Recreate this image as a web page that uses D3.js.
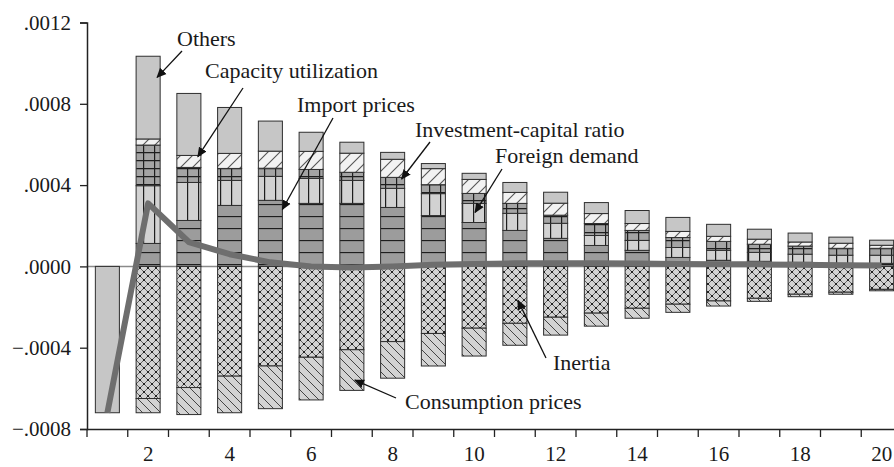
<!DOCTYPE html>
<html>
<head>
<meta charset="utf-8">
<title>Decomposition by component</title>
<style>
  body { margin: 0; background: #fff; }
  svg { display: block; }
  text { font-family: "Liberation Serif", "DejaVu Serif", serif; fill: #1a1a1a; }
</style>
</head>
<body>
<script src="https://d3js.org/d3.v7.min.js"></script>
<script>
// periods on the x axis
const periods = [1, 2, 3, 4, 5, 6, 7, 8, 9, 10, 11, 12, 13, 14, 15, 16, 17, 18, 19, 20];
const xTickLabels = [2, 4, 6, 8, 10, 12, 14, 16, 18, 20];
const yTicks = [-0.0008, -0.0004, 0, 0.0004, 0.0008, 0.0012];

// contributions
const importPrices = [0, 0.000113, 0.000226, 0.0003, 0.000325, 0.00031, 0.00031, 0.00029, 0.00025, 0.000216,
  0.000177, 0.000138, 0.000103, 0.000079, 0.000044, 0.00003, 0.000025, 0.00002, 0.000015, 0.000015];
const foreignDemand = [0, 0.000284, 0.000187, 0.000123, 0.000118, 0.000123, 0.000113, 0.000094, 0.000108, 0.000094,
  0.000084, 0.000074, 0.000049, 0.000049, 0.000049, 0.000049, 0.000044, 0.00004, 0.00004, 0.00004];
const investCapital = [0, 0.0002, 0.000074, 0.000059, 0.00004, 0.000044, 0.00004, 0.000054, 0.000044, 0.000049,
  0.000049, 0.00004, 0.000059, 0.000049, 0.000049, 0.000044, 0.00004, 0.00004, 0.000034, 0.000034];
const capacityUtil = [0, 0.00003, 0.000059, 0.000074, 0.000084, 0.000089, 0.000094, 0.000089, 0.000079, 0.000069,
  0.000054, 0.000059, 0.000049, 0.000034, 0.00003, 0.000025, 0.000025, 0.00002, 0.000025, 0.000015];
const others = [-0.00072, 0.000407, 0.000305, 0.000226, 0.000148, 0.000094, 0.000054, 0.000034, 0.000025, 0.00003,
  0.000049, 0.000054, 0.000054, 0.000064, 0.000069, 0.000059, 0.000049, 0.000044, 0.00003, 0.000025];
const inertia = [0, -0.00065, -0.000596, -0.00054, -0.00049, -0.000447, -0.00041, -0.00037, -0.00033, -0.000304,
  -0.00028, -0.00025, -0.00023, -0.000206, -0.000186, -0.00017, -0.000157, -0.000137, -0.000127, -0.000113];
const consumptionPrices = [0, -0.00007, -0.000133, -0.00018, -0.00021, -0.00021, -0.0002, -0.00018, -0.00016, -0.000137,
  -0.000108, -0.000088, -0.000064, -0.000049, -0.00004, -0.000025, -0.000015, -0.000012, -0.00001, -0.000007];
// total response (thick line)
const total = [-0.00072, 0.00031, 0.00012, 0.00006, 0.00002, 0.0, -0.000005, 0.0, 0.000008, 0.000012,
  0.000015, 0.000015, 0.000015, 0.000014, 0.000012, 0.00001, 0.00001, 0.000008, 0.000006, 0.000005];

const width = 894, height = 467;

const svg = d3.select("body").append("svg")
  .attr("width", width)
  .attr("height", height);

// fill patterns
const defs = svg.append("defs");
function makePattern(id, w, h, bg) {
  const p = defs.append("pattern").attr("id", id)
    .attr("patternUnits", "userSpaceOnUse")
    .attr("width", w).attr("height", h);
  p.append("rect").attr("width", w).attr("height", h).attr("fill", bg);
  return p;
}
// capacity utilization: light with "/" hatch
makePattern("pCU", 12, 12, "#f2f2f2")
  .append("path").attr("d", "M-3,3 L3,-3 M0,12 L12,0 M9,15 L15,9")
  .attr("stroke", "#555").attr("stroke-width", 1.1);
// investment-capital ratio: dark grey grid
const pIK = makePattern("pIK", 11, 8, "#a4a4a4");
pIK.append("path").attr("d", "M0.5,0 V8 M0,0.5 H11").attr("stroke", "#1e1e1e").attr("stroke-width", 1.4);
// foreign demand: light grey, vertical lines
makePattern("pFD", 11, 10, "#d2d2d2")
  .append("path").attr("d", "M0.5,0 V10").attr("stroke", "#1e1e1e").attr("stroke-width", 1.4);
// import prices: dark grey, horizontal lines
makePattern("pIP", 10, 12, "#9c9c9c")
  .append("path").attr("d", "M0,0.5 H10").attr("stroke", "#1e1e1e").attr("stroke-width", 1.3);
// inertia: diamonds with dots
const pIN = makePattern("pIN", 8, 8, "#d3d3d3");
pIN.append("path").attr("d", "M0,0 L8,8 M8,0 L0,8").attr("stroke", "#444").attr("stroke-width", 0.8);
pIN.selectAll("circle").data([[0, 0], [8, 0], [0, 8], [8, 8], [4, 4]]).enter()
  .append("circle").attr("cx", d => d[0]).attr("cy", d => d[1]).attr("r", 1.1).attr("fill", "#111");
// consumption prices: "\" hatch
makePattern("pCP", 9, 9, "#d3d3d3")
  .append("path").attr("d", "M0,0 L9,9 M-4.5,4.5 L4.5,13.5 M4.5,-4.5 L13.5,4.5")
  .attr("stroke", "#444").attr("stroke-width", 1);

const series = [
  { key: "importPrices", values: importPrices, fill: "url(#pIP)" },
  { key: "foreignDemand", values: foreignDemand, fill: "url(#pFD)" },
  { key: "investCapital", values: investCapital, fill: "url(#pIK)" },
  { key: "capacityUtil", values: capacityUtil, fill: "url(#pCU)" },
  { key: "others", values: others, fill: "#c6c6c6" },
  { key: "inertia", values: inertia, fill: "url(#pIN)" },
  { key: "consumptionPrices", values: consumptionPrices, fill: "url(#pCP)" }
];

const table = periods.map((p, i) => {
  const row = { period: p };
  series.forEach(s => { row[s.key] = s.values[i]; });
  return row;
});

const stacked = d3.stack()
  .keys(series.map(s => s.key))
  .offset(d3.stackOffsetDiverging)(table);

// scales
const x = d3.scaleBand()
  .domain(periods)
  .range([87, 902])
  .paddingInner(0.41)
  .paddingOuter(0.205);

const y = d3.scaleLinear()
  .domain([-0.0008, 0.0012])
  .range([429, 22.5]);

// zero line
svg.append("line")
  .attr("x1", 87).attr("x2", width)
  .attr("y1", y(0)).attr("y2", y(0))
  .attr("stroke", "#8a8a8a").attr("stroke-width", 1.5);

// stacked bars
svg.append("g").selectAll("g")
  .data(stacked)
  .enter().append("g")
  .attr("fill", (d, i) => series[i].fill)
  .selectAll("rect")
  .data(d => d)
  .enter().append("rect")
  .filter(d => Math.abs(d[1] - d[0]) > 0)
  .attr("x", d => x(d.data.period))
  .attr("width", x.bandwidth())
  .attr("y", d => y(Math.max(d[0], d[1])))
  .attr("height", d => Math.abs(y(d[0]) - y(d[1])))
  .attr("stroke", "#2e2e2e")
  .attr("stroke-width", 1);

// total line
const line = d3.line()
  .x((d, i) => x(periods[i]) + x.bandwidth() / 2)
  .y(d => y(d));

svg.append("path")
  .datum(total)
  .attr("d", line)
  .attr("fill", "none")
  .attr("stroke", "#6e6e6e")
  .attr("stroke-width", 6)
  .attr("stroke-linejoin", "round");

// y axis
const yAxis = svg.append("g")
  .attr("transform", "translate(87,0)")
  .call(d3.axisLeft(y)
    .tickValues(yTicks)
    .tickSize(7)
    .tickPadding(9)
    .tickFormat(d => d3.format(".4f")(d).replace("0.", ".")));

// x axis
const xAxis = svg.append("g")
  .attr("transform", "translate(0,429)")
  .call(d3.axisBottom(x)
    .tickValues(xTickLabels)
    .tickSize(0)
    .tickPadding(17));
xAxis.select(".domain").attr("d", "M87,0.5H" + width);

// tick marks on category boundaries
const boundaries = periods.map(p => x(p) - x.step() * x.paddingInner() / 2);
xAxis.selectAll(".bound")
  .data(boundaries)
  .enter().append("line")
  .attr("class", "bound")
  .attr("x1", d => d).attr("x2", d => d)
  .attr("y1", 0).attr("y2", 8)
  .attr("stroke", "#222").attr("stroke-width", 1.3);

[yAxis, xAxis].forEach(g => {
  g.select(".domain").attr("stroke", "#222").attr("stroke-width", 1.5);
  g.selectAll(".tick line").attr("stroke", "#222").attr("stroke-width", 1.3);
  g.selectAll("text")
    .style("font-family", "'Liberation Serif', 'DejaVu Serif', serif")
    .style("font-size", "21px")
    .attr("fill", "#1a1a1a");
});

// annotations: text position, arrow start and tip (tip anchored to a bar)
const notes = [
  { label: "Others", tx: 177, ty: 46, sx: 182, sy: 51, period: 2, dx: 9, value: 0.00093 },
  { label: "Capacity utilization", tx: 205, ty: 78, sx: 243, sy: 88, period: 3, dx: 9, value: 0.00054 },
  { label: "Import prices", tx: 297, ty: 112, sx: 333, sy: 118, period: 5, dx: 12, value: 0.00028 },
  { label: "Investment-capital ratio", tx: 415, ty: 137, sx: 430, sy: 142, period: 8, dx: 9, value: 0.00043 },
  { label: "Foreign demand", tx: 495, ty: 163, sx: 502, sy: 169, period: 10, dx: 1, value: 0.000266 },
  { label: "Inertia", tx: 553, ty: 370, sx: 546, sy: 358, period: 11, dx: 3, value: -0.000167 },
  { label: "Consumption prices", tx: 405, ty: 409, sx: 396, sy: 398, period: 7, dx: 3, value: -0.00056 }
];

defs.append("marker")
  .attr("id", "arrow")
  .attr("viewBox", "0 0 10 10")
  .attr("refX", 9).attr("refY", 5)
  .attr("markerWidth", 10).attr("markerHeight", 10)
  .attr("markerUnits", "userSpaceOnUse")
  .attr("orient", "auto")
  .append("path").attr("d", "M0,0.5 L10,5 L0,9.5 Z").attr("fill", "#111");

const ann = svg.append("g");
ann.selectAll("line")
  .data(notes)
  .enter().append("line")
  .attr("x1", d => d.sx).attr("y1", d => d.sy)
  .attr("x2", d => x(d.period) + x.bandwidth() / 2 + d.dx)
  .attr("y2", d => y(d.value))
  .attr("stroke", "#111").attr("stroke-width", 1.3)
  .attr("marker-end", "url(#arrow)");

ann.selectAll("text")
  .data(notes)
  .enter().append("text")
  .attr("x", d => d.tx).attr("y", d => d.ty)
  .style("font-size", "22px")
  .text(d => d.label);
</script>
</body>
</html>
